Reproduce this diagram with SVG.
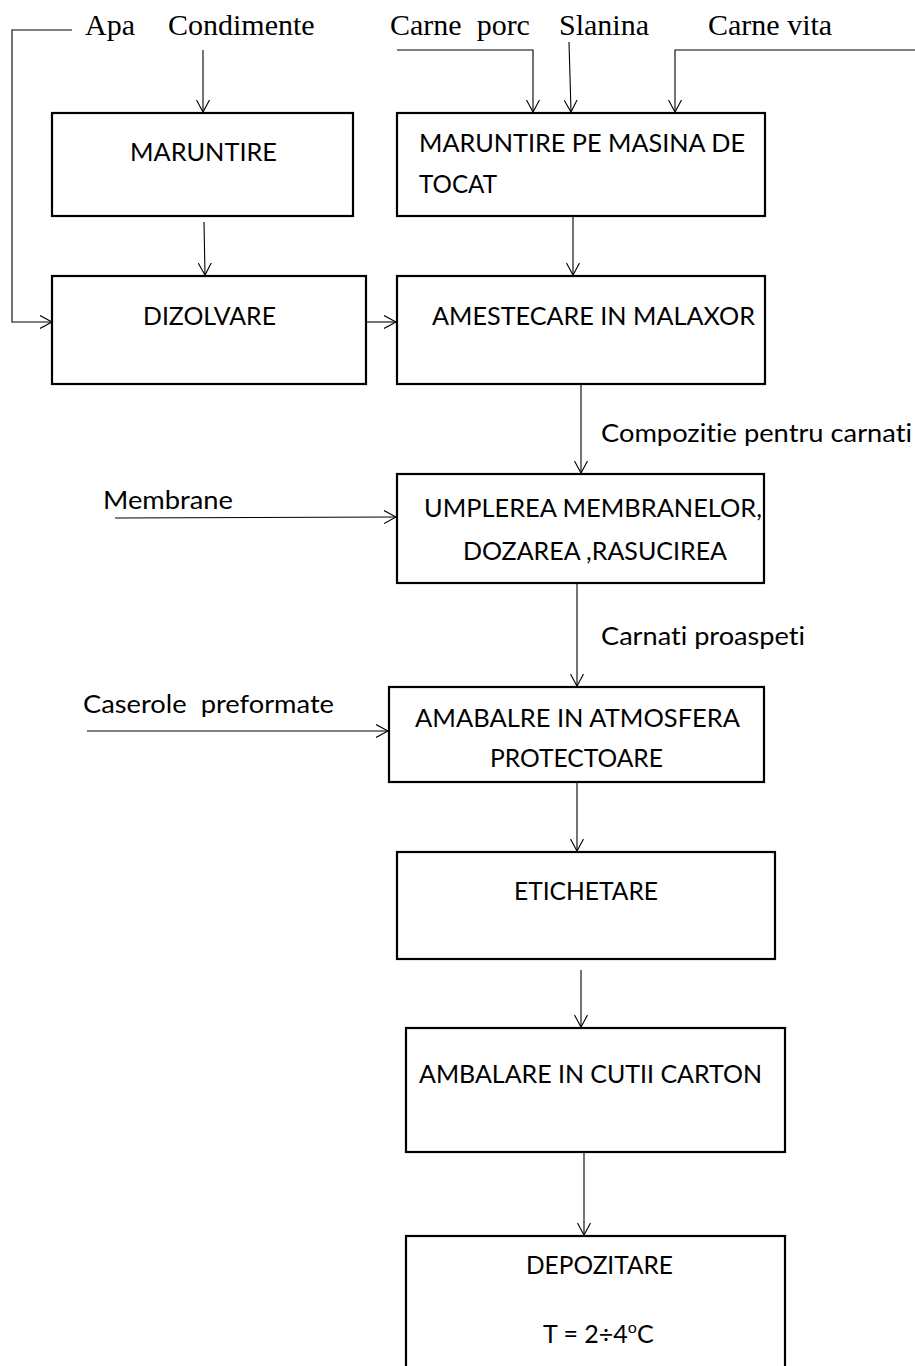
<svg xmlns="http://www.w3.org/2000/svg" width="915" height="1366" viewBox="0 0 915 1366">
<style>
.box{fill:#fff;stroke:#000;stroke-width:2.2}
.t{font-family:Lato,"Open Sans",sans-serif;font-size:25px;fill:#000;white-space:pre;font-variant-ligatures:none}
.s{font-family:"Liberation Serif","Times New Roman",serif;font-size:30px;fill:#000;white-space:pre}
.c{fill:none;stroke:#000;stroke-width:1.1}
</style>
<defs>
<marker id="ah" markerWidth="14" markerHeight="14" refX="12" refY="7" orient="auto" markerUnits="userSpaceOnUse">
<path d="M0,0.5 L12,7 L0,13.5" fill="none" stroke="#000" stroke-width="1.1"/>
</marker>
</defs>
<g id="labels">
<text class="s" x="85" y="35">Apa</text>
<text class="s" x="168" y="35">Condimente</text>
<text class="s" x="390" y="35">Carne  porc</text>
<text class="s" x="559" y="35">Slanina</text>
<text class="s" x="708" y="35">Carne vita</text>
<text class="t" x="601" y="442" textLength="311" lengthAdjust="spacingAndGlyphs">Compozitie pentru carnati</text>
<text class="t" x="103" y="509" textLength="130" lengthAdjust="spacingAndGlyphs">Membrane</text>
<text class="t" x="601" y="645" textLength="204" lengthAdjust="spacingAndGlyphs">Carnati proaspeti</text>
<text class="t" x="83" y="713" textLength="251" lengthAdjust="spacingAndGlyphs">Caserole  preformate</text>
</g>
<g id="n1"><rect class="box" x="52" y="113" width="301" height="103"/><text class="t" x="130" y="161" textLength="147" lengthAdjust="spacingAndGlyphs">MARUNTIRE</text></g>
<g id="n2"><rect class="box" x="397" y="113" width="368" height="103"/><text class="t" x="419" y="152" textLength="326" lengthAdjust="spacingAndGlyphs">MARUNTIRE PE MASINA DE</text><text class="t" x="419" y="193" textLength="78" lengthAdjust="spacingAndGlyphs">TOCAT</text></g>
<g id="n3"><rect class="box" x="52" y="276" width="314" height="108"/><text class="t" x="143" y="325" textLength="133" lengthAdjust="spacingAndGlyphs">DIZOLVARE</text></g>
<g id="n4"><rect class="box" x="397" y="276" width="368" height="108"/><text class="t" x="432" y="325" textLength="323" lengthAdjust="spacingAndGlyphs">AMESTECARE IN MALAXOR</text></g>
<g id="n5"><rect class="box" x="397" y="474" width="367" height="109"/><text class="t" x="424" y="517" textLength="338" lengthAdjust="spacingAndGlyphs">UMPLEREA MEMBRANELOR,</text><text class="t" x="463" y="560" textLength="264" lengthAdjust="spacingAndGlyphs">DOZAREA ,RASUCIREA</text></g>
<g id="n6"><rect class="box" x="389" y="687" width="375" height="95"/><text class="t" x="415" y="727" textLength="325" lengthAdjust="spacingAndGlyphs">AMABALRE IN ATMOSFERA</text><text class="t" x="490" y="767" textLength="173" lengthAdjust="spacingAndGlyphs">PROTECTOARE</text></g>
<g id="n7"><rect class="box" x="397" y="852" width="378" height="107"/><text class="t" x="514" y="900" textLength="144" lengthAdjust="spacingAndGlyphs">ETICHETARE</text></g>
<g id="n8"><rect class="box" x="406" y="1028" width="379" height="124"/><text class="t" x="419" y="1083" textLength="343" lengthAdjust="spacingAndGlyphs">AMBALARE IN CUTII CARTON</text></g>
<g id="n9"><rect class="box" x="406" y="1236" width="379" height="140"/><text class="t" x="526" y="1274" textLength="147" lengthAdjust="spacingAndGlyphs">DEPOZITARE</text><text class="t" x="543" y="1343">T = 2÷4<tspan font-size="16" dy="-10">o</tspan><tspan dy="10">C</tspan></text></g>
<g id="connectors">
<path class="c" d="M72,30 H12 V322 H52" marker-end="url(#ah)"/>
<path class="c" d="M203,50 V112" marker-end="url(#ah)"/>
<path class="c" d="M204,222 L205,275" marker-end="url(#ah)"/>
<path class="c" d="M366,322 H396" marker-end="url(#ah)"/>
<path class="c" d="M397,50 H533 V112" marker-end="url(#ah)"/>
<path class="c" d="M569,42 L571,112" marker-end="url(#ah)"/>
<path class="c" d="M915,50 H675 V112" marker-end="url(#ah)"/>
<path class="c" d="M573,216 V275" marker-end="url(#ah)"/>
<path class="c" d="M581,384 V473" marker-end="url(#ah)"/>
<path class="c" d="M115,518 L396,517" marker-end="url(#ah)"/>
<path class="c" d="M577,583 V686" marker-end="url(#ah)"/>
<path class="c" d="M87,731 H388" marker-end="url(#ah)"/>
<path class="c" d="M577,782 V851" marker-end="url(#ah)"/>
<path class="c" d="M581,970 V1027" marker-end="url(#ah)"/>
<path class="c" d="M584,1152 V1235" marker-end="url(#ah)"/>
</g>
</svg>
